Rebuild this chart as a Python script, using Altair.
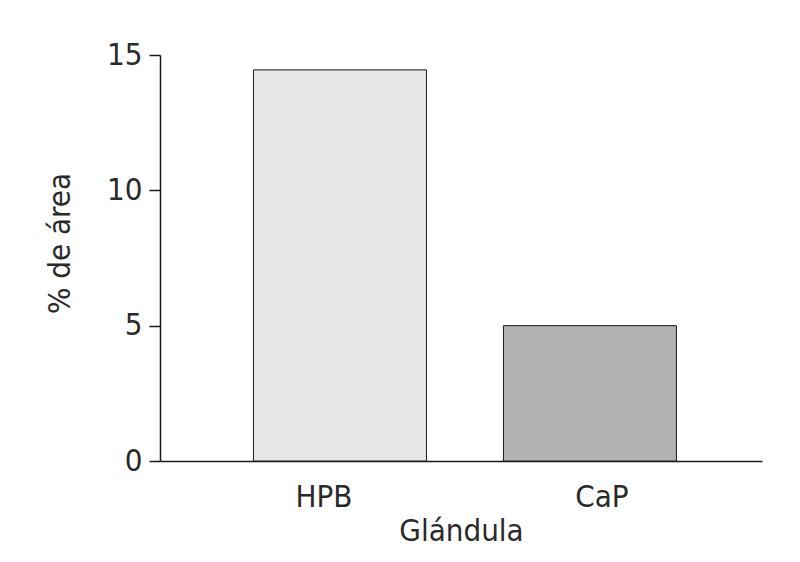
import altair as alt
import pandas as pd

categories = ["HPB", "CaP"]
values = [14.45, 5.0]
colors = ["#e6e7e8", "#b3b3b3"]

df = pd.DataFrame({"Glándula": categories, "area": values, "color": colors})

FONT = "'DejaVu Sans Condensed', Roboto, sans-serif"

chart = alt.Chart(df).mark_bar(stroke="#1a1a1a", strokeWidth=1).encode(
    x=alt.X("Glándula:N", sort=categories,
            scale=alt.Scale(paddingInner=0.308, paddingOuter=0.358, align=0.522),
            axis=alt.Axis(title="Glándula", labelAngle=0, ticks=False, tickSize=0,
                          labelPadding=21, titlePadding=4, domainColor="#1a1a1a",
                          domainWidth=1.5,
                          labelOffset={"expr": "datum.value == 'HPB' ? -16 : 12"})),
    y=alt.Y("area:Q", scale=alt.Scale(domain=[0, 15]),
            axis=alt.Axis(title="% de área", values=[0, 5, 10, 15], tickSize=11,
                          tickColor="#1a1a1a", tickWidth=1.5, domainColor="#1a1a1a",
                          domainWidth=1.5, labelPadding=7, grid=False, titlePadding=30,
                          titleY=188)),
    color=alt.Color("color:N", scale=None),
).properties(
    width=602, height=406,
    autosize=alt.AutoSizeParams(type="none"),
    padding={"left": 152, "top": 47, "right": 30, "bottom": 93},
).configure_view(stroke=None).configure_axis(
    labelFont=FONT, titleFont=FONT, labelFontSize=31, titleFontSize=31,
    labelFontWeight="normal", titleFontWeight="normal",
    labelColor="#2a2a2a", titleColor="#2a2a2a",
)

chart.save("out.html", embed_options={"renderer": "svg", "actions": False})
